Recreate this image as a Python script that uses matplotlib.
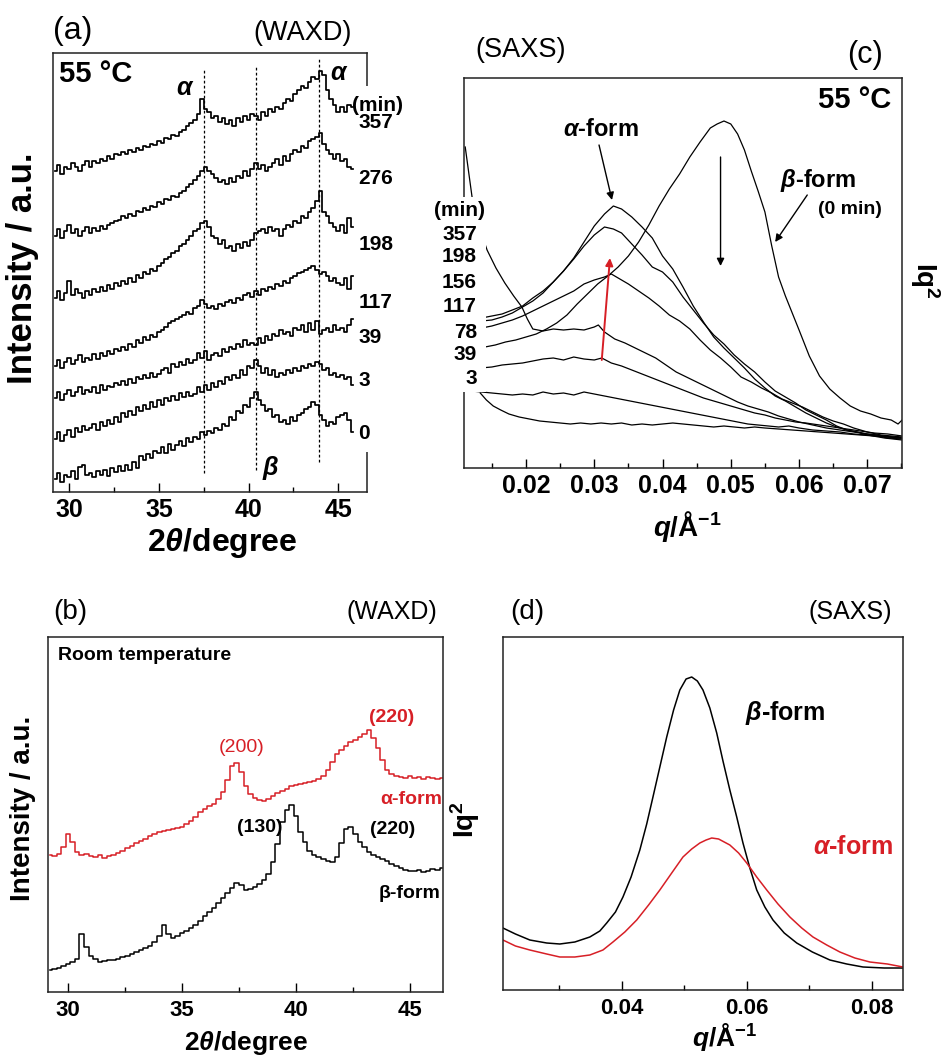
import numpy as np
import matplotlib
matplotlib.use("Agg")
import matplotlib.pyplot as plt
from matplotlib.patches import Rectangle
from matplotlib.ticker import MultipleLocator

plt.rcParams['font.family'] = ['Liberation Sans', 'DejaVu Sans']
plt.rcParams['mathtext.fontset'] = 'custom'
plt.rcParams['mathtext.rm'] = 'Liberation Sans:bold'
plt.rcParams['mathtext.it'] = 'Liberation Sans:italic:bold'
plt.rcParams['mathtext.bf'] = 'Liberation Sans:bold'

RED = '#d71f26'

# ---------------- (a) WAXD at 55 C, stacked traces ----------------
a_start, a_stop, a_n = 29.2, 45.8, 84
a_times = ['0', '3', '39', '117', '198', '276', '357']
a_0 = [22, 28, 20, 26, 24, 30, 22, 34, 36, 26,
       28, 24, 30, 26, 31, 25, 33, 29, 35, 30,
       36, 31, 38, 33, 44, 40, 46, 42, 49, 47,
       52, 47, 55, 50, 54, 58, 53, 61, 57, 62,
       60, 66, 64, 67, 65, 70, 68, 74, 72, 80,
       78, 86, 84, 92, 90, 98, 104, 96, 92, 86,
       88, 80, 82, 76, 78, 74, 80, 77, 82, 84,
       88, 90, 94, 92, 82, 78, 72, 76, 74, 80,
       82, 84, 78, 66]
a_3 = [60, 66, 58, 64, 68, 62, 70, 66, 72, 68,
       70, 74, 68, 76, 72, 78, 74, 80, 76, 84,
       80, 86, 82, 90, 86, 92, 88, 94, 90, 96,
       92, 98, 95, 100, 96, 103, 99, 104, 100, 102,
       108, 104, 110, 106, 112, 108, 114, 111, 118, 115,
       120, 117, 124, 120, 128, 126, 134, 128, 122, 126,
       120, 124, 118, 122, 120, 124, 122, 126, 123, 128,
       126, 130, 128, 132, 130, 124, 126, 120, 122, 118,
       120, 116, 118, 110]
a_39 = [98, 104, 96, 102, 106, 100, 104, 108, 102, 106,
        104, 108, 103, 110, 106, 109, 108, 112, 110, 114,
        110, 116, 112, 118, 116, 120, 117, 122, 118, 121,
        124, 126, 122, 130, 127, 132, 129, 135, 131, 134,
        140, 136, 142, 134, 138, 140, 137, 144, 141, 146,
        144, 149, 146, 152, 148, 150, 148, 154, 150, 156,
        152, 158, 156, 162, 158, 160, 156, 164, 162, 166,
        160, 168, 162, 170, 158, 162, 164, 160, 166, 162,
        164, 160, 166, 172]
a_117 = [128, 134, 126, 132, 136, 130, 134, 138, 132, 136,
         134, 139, 135, 140, 137, 142, 139, 144, 142, 146,
         143, 149, 146, 152, 150, 155, 152, 157, 155, 160,
         162, 165, 168, 170, 172, 174, 176, 179, 177, 182,
         184, 190, 186, 182, 184, 181, 186, 184, 188, 190,
         187, 192, 190, 194, 196, 193, 198, 194, 200, 198,
         202, 200, 205, 203, 208, 206, 210, 212, 215, 216,
         218, 220, 222, 218, 214, 216, 212, 208, 210, 206,
         204, 210, 200, 212]
a_198 = [192, 198, 190, 196, 208, 194, 200, 196, 192, 198,
         194, 200, 197, 202, 198, 204, 200, 206, 203, 208,
         205, 210, 207, 213, 210, 216, 214, 219, 217, 222,
         224, 228, 230, 234, 236, 240, 242, 246, 250, 254,
         256, 262, 264, 258, 250, 248, 242, 246, 238, 240,
         236, 242, 238, 244, 240, 246, 252, 254, 256, 252,
         258, 254, 256, 250, 256, 260, 258, 264, 262, 268,
         266, 272, 276, 282, 292, 272, 268, 262, 258, 254,
         260, 252, 266, 258]
a_276 = [250, 256, 248, 254, 260, 252, 256, 250, 254, 258,
         252, 257, 254, 259, 256, 260, 262, 264, 265, 268,
         266, 270, 268, 273, 272, 276, 274, 278, 277, 281,
         280, 284, 283, 287, 286, 290, 292, 295, 298, 302,
         306, 310, 314, 310, 308, 304, 300, 302, 298, 304,
         300, 306, 304, 310, 306, 312, 318, 312, 316, 310,
         314, 318, 322, 316, 324, 320, 326, 330, 328, 334,
         332, 338, 340, 342, 346, 336, 330, 326, 322, 326,
         320, 322, 314, 312]
a_357 = [310, 316, 308, 314, 312, 318, 314, 310, 316, 320,
         314, 320, 318, 322, 320, 324, 322, 326, 325, 328,
         326, 330, 328, 332, 330, 334, 333, 336, 335, 338,
         337, 341, 340, 344, 343, 347, 349, 352, 355, 358,
         364, 378, 368, 366, 360, 362, 356, 360, 354, 358,
         352, 360, 356, 362, 358, 364, 362, 358, 366, 362,
         368, 366, 370, 368, 374, 378, 376, 382, 386, 390,
         388, 394, 398, 396, 404, 400, 386, 378, 372, 366,
         370, 366, 372, 370]
a_traces = [a_0, a_3, a_39, a_117, a_198, a_276, a_357]
a_label_y = [65, 115, 155, 187, 242, 303, 356]
a_peak_x = [37.5, 40.4, 43.9]
a_peak_y0 = [28, 31, 38]
a_peak_y1 = [405, 409, 417]
a_ticks = [30, 35, 40, 45]
a_ticklabels = ['30', '35', '40', '45']

# ---------------- (b) WAXD room temperature ----------------
b_start, b_stop, b_n = 29.2, 46.4, 87
b_alpha = [137, 136, 138, 145, 158, 150, 140, 137, 138, 136,
           135, 137, 134, 136, 137, 139, 141, 144, 146, 149,
           151, 153, 156, 158, 160, 161, 162, 163, 164, 165,
           168, 171, 175, 180, 183, 186, 188, 193, 200, 212,
           226, 229, 220, 206, 198, 194, 192, 191, 193, 196,
           199, 201, 203, 206, 207, 208, 209, 210, 211, 213,
           216, 222, 230, 238, 242, 246, 250, 252, 255, 258,
           262, 254, 244, 232, 222, 218, 216, 215, 214, 216,
           214, 215, 213, 215, 214, 213, 214]
b_beta = [22, 23, 24, 26, 28, 30, 33, 58, 45, 36,
          33, 30, 31, 32, 32, 33, 35, 36, 38, 40,
          42, 44, 46, 50, 56, 67, 58, 54, 56, 59,
          61, 64, 67, 71, 76, 80, 84, 89, 94, 99,
          104, 109, 107, 102, 103, 105, 108, 112, 118, 130,
          148, 170, 182, 187, 176, 160, 150, 141, 137, 135,
          133, 131, 130, 135, 149, 163, 165, 158, 150, 145,
          140, 137, 135, 133, 131, 128, 126, 124, 122, 121,
          121, 122, 120, 121, 123, 122, 124]
b_ticks = [30, 35, 40, 45]
b_ticklabels = ['30', '35', '40', '45']

# ---------------- (c) SAXS at 55 C ----------------
c_q_0 = [0.0140, 0.0155, 0.0170, 0.0185, 0.0200, 0.0215, 0.0230, 0.0245, 0.0260, 0.0275,
         0.0290, 0.0305, 0.0320, 0.0335, 0.0350, 0.0365, 0.0380, 0.0395, 0.0410, 0.0425,
         0.0440, 0.0455, 0.0470, 0.0480, 0.0490, 0.0500, 0.0510, 0.0520, 0.0530, 0.0540,
         0.0550, 0.0560, 0.0570, 0.0580, 0.0590, 0.0600, 0.0615, 0.0630, 0.0645, 0.0660,
         0.0675, 0.0690, 0.0705, 0.0720, 0.0735, 0.0745, 0.0751]
c_i_0 = [121, 123, 126, 128, 131, 134, 139, 145, 153, 164,
         174, 184, 192, 201, 212, 226, 243, 262, 279, 294,
         311, 326, 340, 344, 347, 344, 334, 318, 297, 277,
         256, 222, 191, 172, 155, 138, 112, 92, 79, 70,
         62, 57, 54, 50, 48, 44, 48]
c_q_357 = [0.0120, 0.0135, 0.0150, 0.0165, 0.0180, 0.0195, 0.0210, 0.0225, 0.0240, 0.0255,
           0.0270, 0.0285, 0.0300, 0.0315, 0.0328, 0.0340, 0.0355, 0.0370, 0.0385, 0.0400,
           0.0415, 0.0430, 0.0445, 0.0460, 0.0475, 0.0490, 0.0505, 0.0520, 0.0535, 0.0550,
           0.0565, 0.0580, 0.0595, 0.0610, 0.0625, 0.0640, 0.0655, 0.0670, 0.0685, 0.0700,
           0.0715, 0.0730, 0.0751]
c_i_357 = [149, 150, 152, 154, 158, 162, 170, 177, 186, 197,
           210, 226, 242, 254, 262, 259, 251, 241, 230, 212,
           199, 181, 162, 146, 131, 120, 110, 100, 89, 80,
           72, 67, 61, 55, 50, 45, 41, 38, 36, 34,
           33, 31, 30]
c_q_198 = c_q_357
c_i_198 = [146, 147, 148, 151, 155, 161, 167, 175, 186, 197,
           209, 222, 233, 241, 239, 235, 224, 213, 201, 196,
           186, 171, 158, 145, 133, 124, 113, 104, 96, 86,
           77, 71, 65, 58, 53, 48, 42, 38, 36, 33,
           32, 30, 29]
c_q_156 = [0.0120, 0.0135, 0.0150, 0.0165, 0.0180, 0.0195, 0.0210, 0.0225, 0.0240, 0.0255,
           0.0270, 0.0285, 0.0300, 0.0315, 0.0325, 0.0335, 0.0350, 0.0365, 0.0380, 0.0395,
           0.0410, 0.0425, 0.0440, 0.0455, 0.0470, 0.0485, 0.0500, 0.0515, 0.0530, 0.0545,
           0.0560, 0.0575, 0.0590, 0.0605, 0.0620, 0.0635, 0.0650, 0.0665, 0.0680, 0.0700,
           0.0720, 0.0751]
c_i_156 = [139, 140, 142, 145, 148, 152, 157, 162, 167, 172,
           177, 184, 188, 191, 194, 190, 184, 177, 170, 162,
           153, 147, 139, 128, 118, 110, 101, 91, 86, 80,
           75, 69, 65, 61, 56, 51, 47, 44, 40, 36,
           33, 31]
c_q_117 = [0.0111, 0.0116, 0.0121, 0.0130, 0.0143, 0.0156, 0.0169, 0.0182, 0.0194, 0.0202,
           0.0210, 0.0225, 0.0240, 0.0255, 0.0270, 0.0285, 0.0300, 0.0306, 0.0315, 0.0330,
           0.0345, 0.0360, 0.0375, 0.0390, 0.0405, 0.0420, 0.0435, 0.0450, 0.0465, 0.0480,
           0.0495, 0.0510, 0.0525, 0.0540, 0.0555, 0.0570, 0.0585, 0.0600, 0.0620, 0.0640,
           0.0660, 0.0680, 0.0700, 0.0725, 0.0751]
c_i_117 = [321, 296, 271, 244, 218, 200, 185, 172, 161, 149,
           139, 137, 139, 138, 139, 138, 141, 143, 136, 129,
           125, 120, 115, 110, 103, 96, 91, 86, 81, 76,
           71, 66, 62, 59, 56, 52, 49, 46, 43, 40,
           38, 36, 34, 32, 30]
c_q_78 = [0.0133, 0.0150, 0.0165, 0.0180, 0.0195, 0.0210, 0.0225, 0.0240, 0.0255, 0.0270,
          0.0285, 0.0300, 0.0311, 0.0325, 0.0340, 0.0355, 0.0370, 0.0385, 0.0400, 0.0415,
          0.0430, 0.0445, 0.0460, 0.0475, 0.0490, 0.0505, 0.0520, 0.0535, 0.0550, 0.0565,
          0.0580, 0.0595, 0.0610, 0.0630, 0.0650, 0.0670, 0.0690, 0.0710, 0.0730, 0.0751]
c_i_78 = [100, 101, 103, 104, 105, 107, 109, 110, 108, 111,
          109, 108, 110, 105, 102, 98, 94, 90, 86, 82,
          78, 74, 70, 67, 64, 61, 58, 55, 53, 50,
          48, 46, 45, 43, 41, 39, 37, 35, 34, 32]
c_q_39 = [0.0120, 0.0135, 0.0150, 0.0165, 0.0180, 0.0195, 0.0210, 0.0225, 0.0240, 0.0255,
          0.0270, 0.0285, 0.0300, 0.0315, 0.0330, 0.0345, 0.0360, 0.0375, 0.0390, 0.0405,
          0.0420, 0.0435, 0.0450, 0.0465, 0.0480, 0.0495, 0.0510, 0.0525, 0.0540, 0.0555,
          0.0570, 0.0585, 0.0600, 0.0620, 0.0640, 0.0660, 0.0680, 0.0700, 0.0725, 0.0751]
c_i_39 = [77, 76, 75, 74, 73, 74, 73, 76, 74, 75,
          73, 76, 74, 72, 70, 68, 66, 64, 62, 60,
          58, 56, 54, 52, 50, 48, 46, 44, 43, 42,
          41, 42, 40, 38, 37, 36, 34, 33, 30, 28]
c_q_3 = [0.0133, 0.0142, 0.0152, 0.0163, 0.0175, 0.0190, 0.0205, 0.0220, 0.0235, 0.0250,
         0.0265, 0.0280, 0.0295, 0.0310, 0.0325, 0.0340, 0.0355, 0.0370, 0.0385, 0.0400,
         0.0415, 0.0430, 0.0445, 0.0460, 0.0475, 0.0490, 0.0505, 0.0520, 0.0535, 0.0550,
         0.0570, 0.0590, 0.0610, 0.0630, 0.0650, 0.0670, 0.0690, 0.0710, 0.0730, 0.0751]
c_i_3 = [75, 68, 62, 58, 54, 51, 49, 47, 46, 45,
         44, 45, 44, 45, 44, 45, 43, 44, 43, 44,
         45, 44, 43, 42, 41, 42, 41, 40, 41, 40,
         39, 38, 37, 36, 35, 34, 33, 32, 31, 30]
c_curves = [(c_q_0, c_i_0), (c_q_3, c_i_3), (c_q_39, c_i_39), (c_q_78, c_i_78),
            (c_q_117, c_i_117), (c_q_156, c_i_156), (c_q_198, c_i_198), (c_q_357, c_i_357)]
c_labels = ['357', '198', '156', '117', '78', '39', '3']
c_label_y = [234, 211, 186, 161, 136, 113, 89]
c_ticks = [0.02, 0.03, 0.04, 0.05, 0.06, 0.07]
c_ticklabels = ['0.02', '0.03', '0.04', '0.05', '0.06', '0.07']

# ---------------- (d) SAXS room temperature ----------------
d_q_beta = [0.0210, 0.0230, 0.0253, 0.0280, 0.0301, 0.0325, 0.0349, 0.0365, 0.0376, 0.0390,
            0.0402, 0.0415, 0.0429, 0.0440, 0.0450, 0.0461, 0.0472, 0.0483, 0.0493, 0.0503,
            0.0512, 0.0521, 0.0530, 0.0541, 0.0552, 0.0562, 0.0573, 0.0584, 0.0594, 0.0605,
            0.0616, 0.0629, 0.0642, 0.0660, 0.0680, 0.0705, 0.0733, 0.0760, 0.0786, 0.0820,
            0.0850]
d_i_beta = [62, 56, 50, 47, 46, 48, 53, 59, 67, 78,
            93, 113, 140, 166, 193, 223, 253, 280, 300, 311,
            313, 309, 300, 282, 257, 229, 200, 173, 147, 122,
            100, 83, 70, 57, 47, 38, 30, 26, 23, 22,
            22]
d_q_alpha = [0.0210, 0.0230, 0.0253, 0.0280, 0.0301, 0.0325, 0.0349, 0.0370, 0.0386, 0.0405,
             0.0424, 0.0443, 0.0461, 0.0480, 0.0498, 0.0512, 0.0525, 0.0535, 0.0544, 0.0555,
             0.0573, 0.0587, 0.0600, 0.0616, 0.0632, 0.0650, 0.0669, 0.0688, 0.0706, 0.0728,
             0.0749, 0.0773, 0.0797, 0.0825, 0.0850]
d_i_alpha = [50, 44, 40, 36, 33, 33, 35, 40, 48, 58,
             70, 85, 100, 117, 133, 141, 147, 150, 152, 151,
             145, 137, 127, 113, 100, 86, 73, 62, 53, 45,
             38, 32, 28, 26, 23]
d_ticks = [0.04, 0.06, 0.08]
d_ticklabels = ['0.04', '0.06', '0.08']

# ================= figure =================
W, H = 952, 1061
fig = plt.figure(figsize=(W / 100, H / 100), dpi=100)


def box(l, t, r, b):
    return [l / W, 1 - b / H, (r - l) / W, (b - t) / H]


def ftext(x, y, s, **kw):
    fig.text(x / W, 1 - y / H, s, ha=kw.pop('ha', 'center'), va=kw.pop('va', 'center'), **kw)


def style_axes(ax, ticks, labels, minor, size, pad):
    for sp in ax.spines.values():
        sp.set_linewidth(1.1)
        sp.set_color('#222222')
    ax.set_yticks([])
    ax.set_xticks(ticks, labels, fontsize=size, fontweight='bold')
    ax.xaxis.set_minor_locator(MultipleLocator(minor))
    ax.tick_params(axis='x', which='major', direction='in', length=6.5, width=1.0,
                   pad=pad, top=False)
    ax.tick_params(axis='x', which='minor', direction='in', length=3.5, width=1.0, top=False)


# ---- (a)
ax_a = fig.add_axes(box(53, 53, 367, 492))
x_a = np.linspace(a_start, a_stop, a_n)
for tr in a_traces:
    ax_a.plot(x_a, tr, drawstyle='steps-mid', color='k', lw=1.25)
for xp, y0, y1 in zip(a_peak_x, a_peak_y0, a_peak_y1):
    ax_a.plot([xp, xp], [y0, y1], color='k', lw=0.9, ls=(0, (2.2, 1.8)))
ax_a.set_xlim(29.1, 46.6)
ax_a.set_ylim(10.3, 420.7)
style_axes(ax_a, a_ticks, a_ticklabels, 2.5, 18, 4)
ax_a.add_patch(Rectangle((46.45, 48), 0.35, 342, facecolor='white', edgecolor='none',
                         clip_on=False, zorder=2.7))
ax_a.text(29.41, 401, '55 °C', fontsize=21, fontweight='bold', ha='left', va='center')
ax_a.text(36.47, 388, r'$\alpha$', fontsize=18, ha='center', va='center')
ax_a.text(45.07, 402, r'$\alpha$', fontsize=18, ha='center', va='center')
ax_a.text(41.25, 33, r'$\beta$', fontsize=18, ha='center', va='center')
ax_a.text(45.76, 372, '(min)', fontsize=15, fontweight='bold', ha='left', va='center', zorder=4)
for lab, yy in zip(a_times, a_label_y):
    ax_a.text(46.13, yy, lab, fontsize=15, fontweight='bold', ha='left', va='center', zorder=4)

ftext(53, 31, '(a)', fontsize=23, ha='left')
ftext(303, 33, '(WAXD)', fontsize=19.5)
ftext(23, 268, 'Intensity / a.u.', fontsize=25, fontweight='bold', rotation=90)
ftext(222, 543, r'2$\theta$/degree', fontsize=23, fontweight='bold')

# ---- (c)
ax_c = fig.add_axes(box(464, 78, 902, 468))
for qq, ii in c_curves:
    ax_c.plot(qq, ii, color='k', lw=0.9)
ax_c.set_xlim(0.01092, 0.07508)
ax_c.set_ylim(0, 390)
style_axes(ax_c, c_ticks, c_ticklabels, 0.005, 18, 4.5)
ax_c.add_patch(Rectangle((0.0074, 76), 0.0067, 195, facecolor='white', edgecolor='none',
                         clip_on=False, zorder=2.7))
ax_c.text(0.0140, 258, '(min)', fontsize=15, fontweight='bold', ha='right', va='center', zorder=4)
for lab, yy in zip(c_labels, c_label_y):
    ax_c.text(0.0128, yy, lab, fontsize=15, fontweight='bold', ha='right', va='center', zorder=4)
ax_c.text(0.07346, 368, '55 °C', fontsize=21, fontweight='bold', ha='right', va='center')
ax_c.text(0.0310, 339, r'$\alpha$-form', fontsize=17, fontweight='bold', ha='center', va='center')
ax_c.text(0.0628, 288, r'$\beta$-form', fontsize=17, fontweight='bold', ha='center', va='center')
ax_c.text(0.0675, 258, '(0 min)', fontsize=14, fontweight='bold', ha='center', va='center')
arrow_k = dict(arrowstyle='-|>', color='k', lw=1.0, mutation_scale=11, shrinkA=0, shrinkB=0)
ax_c.annotate('', xy=(0.0326, 268), xytext=(0.0307, 323), arrowprops=arrow_k)
ax_c.annotate('', xy=(0.0565, 226), xytext=(0.0612, 273), arrowprops=arrow_k)
ax_c.annotate('', xy=(0.0485, 202), xytext=(0.0485, 311), arrowprops=arrow_k)
ax_c.annotate('', xy=(0.0323, 210), xytext=(0.0311, 108),
              arrowprops=dict(arrowstyle='-|>', color=RED, lw=1.4, mutation_scale=11,
                              shrinkA=0, shrinkB=0))

ftext(521, 50, '(SAXS)', fontsize=19.5)
ftext(865, 55, '(c)', fontsize=22)
ftext(687, 527, r'$q$/Å$^{-1}$', fontsize=20, fontweight='bold')
ftext(925, 280, r'Iq$^{2}$', fontsize=20, fontweight='bold', rotation=270)

# ---- (b)
ax_b = fig.add_axes(box(48, 637, 443, 992))
x_b = np.linspace(b_start, b_stop, b_n)
ax_b.plot(x_b, b_alpha, drawstyle='steps-mid', color=RED, lw=1.1)
ax_b.plot(x_b, b_beta, drawstyle='steps-mid', color='k', lw=1.1)
ax_b.set_xlim(29.12, 46.45)
ax_b.set_ylim(0, 355)
style_axes(ax_b, b_ticks, b_ticklabels, 2.5, 16, 6)
ax_b.text(29.56, 337, 'Room temperature', fontsize=14, fontweight='bold', ha='left', va='center')
ax_b.text(37.63, 245, '(200)', fontsize=14, color=RED, ha='center', va='center')
ax_b.text(44.21, 274, '(220)', fontsize=14, fontweight='bold', color=RED, ha='center', va='center')
ax_b.text(46.40, 192, 'α-form', fontsize=14, fontweight='bold', color=RED, ha='right', va='center')
ax_b.text(38.42, 165, '(130)', fontsize=14, fontweight='bold', ha='center', va='center')
ax_b.text(44.25, 162, '(220)', fontsize=14, fontweight='bold', ha='center', va='center')
ax_b.text(46.32, 99, 'β-form', fontsize=14, fontweight='bold', ha='right', va='center')

ftext(53, 612, '(b)', fontsize=20, ha='left')
ftext(392, 612, '(WAXD)', fontsize=18)
ftext(23, 808, 'Intensity / a.u.', fontsize=20, fontweight='bold', rotation=90)
ftext(246, 1043, r'2$\theta$/degree', fontsize=19, fontweight='bold')

# ---- (d)
ax_d = fig.add_axes(box(503, 637, 903, 990))
ax_d.plot(d_q_beta, d_i_beta, color='k', lw=1.1)
ax_d.plot(d_q_alpha, d_i_alpha, color=RED, lw=1.1)
ax_d.set_xlim(0.02101, 0.085)
ax_d.set_ylim(0, 353)
style_axes(ax_d, d_ticks, d_ticklabels, 0.01, 16, 6)
ax_d.text(0.06613, 277, r'$\beta$-form', fontsize=18, fontweight='bold', ha='center', va='center')
ax_d.text(0.0770, 143, r'$\alpha$-form', fontsize=18, fontweight='bold', color=RED,
          ha='center', va='center')

ftext(510, 612, '(d)', fontsize=20, ha='left')
ftext(850, 612, '(SAXS)', fontsize=18)
ftext(725, 1037, r'$q$/Å$^{-1}$', fontsize=19, fontweight='bold')
ftext(465, 820, r'Iq$^{2}$', fontsize=20, fontweight='bold', rotation=90)

fig.savefig('out.png', dpi=100)
